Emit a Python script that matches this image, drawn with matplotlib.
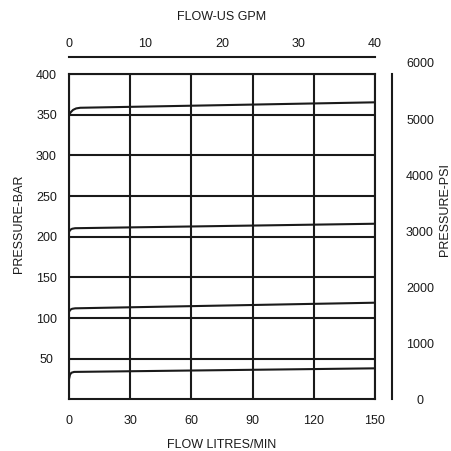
import matplotlib
matplotlib.use("Agg")
import matplotlib.pyplot as plt

plt.rcParams['font.family'] = ['Liberation Sans', 'DejaVu Sans']
plt.rcParams['font.size'] = 9

# Data
flow_ticks = [0, 30, 60, 90, 120, 150]
bar_ticks = [50, 100, 150, 200, 250, 300, 350, 400]
gpm_ticks = [0, 10, 20, 30, 40]
psi_ticks = [0, 1000, 2000, 3000, 4000, 5000, 6000]
BAR_TO_PSI = 14.5038

curve_flow = [
    [0, 1, 2, 3.5, 5.5, 150],
    [0, 0.7, 1.5, 3, 150],
    [0, 0.7, 1.5, 3, 150],
    [0, 0.5, 1.2, 2.5, 150],
]
curve_bar = [
    [350, 353.5, 356, 357.8, 358.6, 365.3],
    [206.2, 208.6, 209.8, 210.5, 216.0],
    [107.8, 110.3, 111.4, 112.0, 118.9],
    [25, 30.5, 32.8, 33.8, 38.2],
]

W, H = 452, 451
ink = '#1a1a1a'
lw = 1.5

fig = plt.figure(figsize=(W / 100, H / 100), dpi=100)

# main plot area in pixels
x0, x1 = 69, 375
y_bot, y_top = 399.4, 74.1
ax = fig.add_axes([x0 / W, (H - y_bot) / H, (x1 - x0) / W, (y_bot - y_top) / H])
ax.set_xlim(0, 150)
ax.set_ylim(0, 400)
ax.set_xticks(flow_ticks)
ax.set_yticks(bar_ticks)
ax.grid(True, color=ink, linewidth=lw)
for s in ax.spines.values():
    s.set_color(ink)
    s.set_linewidth(lw)
ax.tick_params(axis='x', length=0, pad=11, colors=ink)
ax.tick_params(axis='y', length=0, pad=16.2, colors=ink)
plt.setp(ax.get_yticklabels(), ha='center')

for fl, p in zip(curve_flow, curve_bar):
    ax.plot(fl, p, color=ink, linewidth=lw, solid_capstyle='butt', clip_on=False, zorder=3)

# top axis in US GPM
ax_top = ax.twiny()
ax_top.set_xlim(0, 40)
ax_top.set_xticks(gpm_ticks)
for name in ['bottom', 'left', 'right']:
    ax_top.spines[name].set_visible(False)
ax_top.spines['top'].set_position(('outward', 12.2))
ax_top.spines['top'].set_color(ink)
ax_top.spines['top'].set_linewidth(lw)
ax_top.tick_params(axis='x', length=0, pad=5.5, colors=ink)

# right axis in PSI, same scale as bar
px_per_bar = (y_bot - y_top) / 400
h_psi = 6000 / BAR_TO_PSI * px_per_bar
ax_r = fig.add_axes([x0 / W, (H - y_bot) / H, (x1 - x0) / W, h_psi / H])
ax_r.patch.set_visible(False)
ax_r.set_ylim(0, 6000)
ax_r.set_yticks(psi_ticks)
ax_r.xaxis.set_visible(False)
ax_r.yaxis.tick_right()
for name in ['bottom', 'left', 'top']:
    ax_r.spines[name].set_visible(False)
ax_r.spines['right'].set_position(('outward', 12.2))
ax_r.spines['right'].set_bounds(0, 400 * BAR_TO_PSI)
ax_r.spines['right'].set_color(ink)
ax_r.spines['right'].set_linewidth(lw)
ax_r.tick_params(axis='y', length=0, pad=20.2, colors=ink)
plt.setp(ax_r.get_yticklabels(), ha='center')

# axis titles
fig.text(222 / W, 1 - 16.5 / H, 'FLOW-US GPM', ha='center', va='center', color=ink)
fig.text(222 / W, 1 - 444.5 / H, 'FLOW LITRES/MIN', ha='center', va='center', color=ink)
fig.text(19 / W, 1 - 224 / H, 'PRESSURE-BAR', rotation=90, ha='center', va='center', color=ink)
fig.text(445.5 / W, 1 - 210 / H, 'PRESSURE-PSI', rotation=90, ha='center', va='center', color=ink)

fig.savefig('out.png', dpi=100)
